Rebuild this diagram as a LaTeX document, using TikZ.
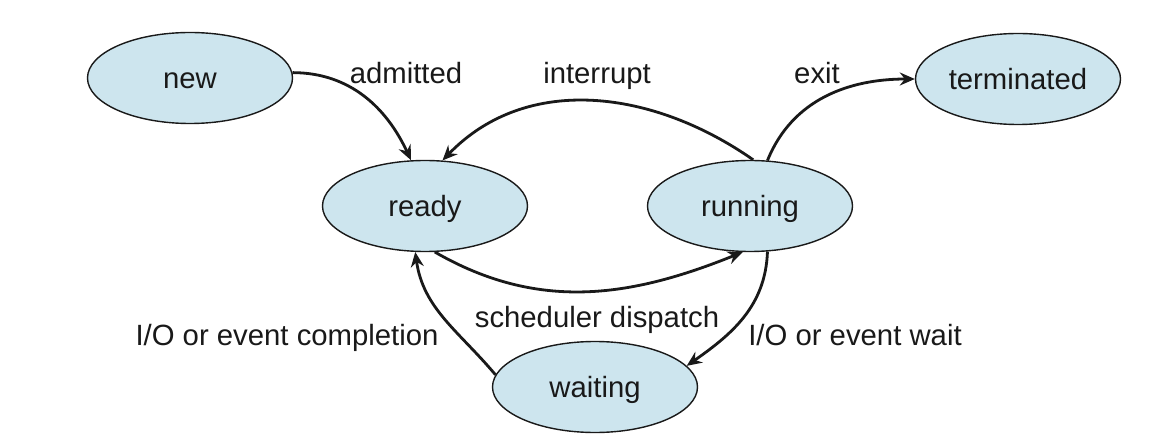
\documentclass[tikz,border=0pt]{standalone}
\usepackage{fontspec}
\setmainfont{Liberation Sans}
\usetikzlibrary{shapes.geometric,arrows.meta}
\definecolor{statefill}{RGB}{205,229,238}
\definecolor{ink}{RGB}{25,25,25}
\tikzset{
  state/.style={ellipse, draw=ink, line width=1.4pt, fill=statefill,
    minimum width=205pt, minimum height=91pt, inner sep=0pt,
    text height=21pt, text depth=0pt, font=\fontsize{29.3}{34}\selectfont, text=ink},
  lbl/.style={anchor=base, inner sep=0pt, font=\fontsize{29.3}{34}\selectfont, text=ink},
  trans/.style={draw=ink, line width=2.8pt, -{Stealth[length=15pt,width=13pt,inset=5pt]}}
}
\begin{document}
\begin{tikzpicture}[x=1pt,y=-1pt]
\useasboundingbox (0,0) rectangle (1161,446);
\node[state] (new) at (190,78) {new};
\node[state] (term) at (1018,79) {terminated};
\node[state] (ready) at (425,206) {ready};
\node[state] (run) at (750,206) {running};
\node[state] (wait) at (595,387) {waiting};

\node[lbl] (ladm) at (406,84) {admitted};
\node[lbl] (lint) at (597,84) {interrupt};
\node[lbl] (lexit) at (817,84) {exit};
\node[lbl] (lsch) at (597,327) {scheduler dispatch};
\node[lbl] (lcomp) at (287,345) {I/O or event completion};
\node[lbl] (lwait) at (855,345) {I/O or event wait};

\draw[trans] (new.3) to[out=0,in=115] (ready.107);
\draw[trans] (run.86) to[out=145,in=46] (ready.69);
\draw[trans] (run.69) to[out=68,in=180] (term.west);
\draw[trans] (ready.282) to[out=-30,in=202] (run.261);
\draw[trans] (run.291) to[out=-92,in=35] (wait.13);
\draw[trans] (wait.173) to[out=130,in=-82] (ready.258);
\end{tikzpicture}
\end{document}
